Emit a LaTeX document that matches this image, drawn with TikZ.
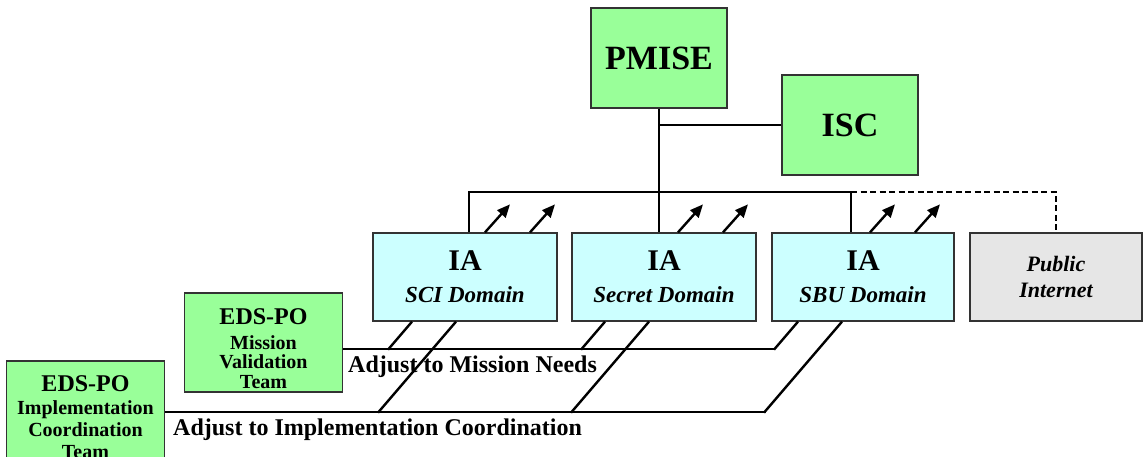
\documentclass[tikz,border=0pt]{standalone}
\usepackage{fontspec}
\setmainfont{Liberation Serif}
\usetikzlibrary{arrows.meta}

\definecolor{boxgreen}{HTML}{99FF99}
\definecolor{boxcyan}{HTML}{CCFFFF}
\definecolor{boxgray}{HTML}{E6E6E6}

\tikzset{
  unitbox/.style={draw=black!80, line width=1.3pt, inner sep=0pt, align=center},
  greenbox/.style={unitbox, fill=boxgreen},
  bigbox/.style={greenbox, minimum width=136pt, minimum height=100pt,
    font=\fontsize{34}{36}\selectfont\bfseries},
  teambox/.style={greenbox, minimum width=158pt,
    font=\fontsize{20}{19.5}\selectfont\bfseries},
  iabox/.style={unitbox, fill=boxcyan, minimum width=184pt, minimum height=88pt,
    font=\fontsize{23}{32}\selectfont\bfseries},
  netbox/.style={unitbox, fill=boxgray, minimum width=172pt, minimum height=88pt,
    font=\fontsize{22}{26}\selectfont\bfseries\itshape},
  tag/.style={inner sep=0pt, font=\fontsize{24}{26}\selectfont\bfseries},
  link/.style={line width=1.2pt},
  push/.style={line width=2.4pt, -{Triangle[length=13pt,width=11pt]}},
  slant/.style={line width=2.4pt}
}

\begin{document}
\begin{tikzpicture}[x=1pt,y=-1pt]
\useasboundingbox (0,0) rectangle (1143,457);

\node[bigbox] (pmise) at (659,58) {PMISE};
\node[bigbox] (isc) at (850,125) {ISC};

\node[iabox] (sci) at (465,277) {{\fontsize{30}{32}\selectfont IA}\\{\itshape SCI Domain}};
\node[iabox] (secret) at (664,277) {{\fontsize{30}{32}\selectfont IA}\\{\itshape Secret Domain}};
\node[iabox, minimum width=182pt] (sbu) at (863,277) {{\fontsize{30}{32}\selectfont IA}\\{\itshape SBU Domain}};
\node[netbox] (public) at (1056,277) {Public\\Internet};

\node[teambox, minimum height=99pt] (mission) at (263.5,342.5)
  {\rule{0pt}{28pt}{\fontsize{24}{26}\selectfont EDS-PO}\\[5pt]Mission\\Validation\\Team};
\node[teambox, minimum height=112pt, font=\fontsize{20}{22}\selectfont\bfseries] (impl) at (85.5,417)
  {{\fontsize{24}{26}\selectfont EDS-PO}\\[1pt]Implementation\\Coordination\\Team};

\coordinate (bus) at (0,192);
\coordinate (needend) at (775,349);
\coordinate (coordend) at (766,412);

% reporting lines
\draw[link] (pmise.south) -- (pmise.south |- secret.north);
\draw[link] (isc.west) -- (isc.west -| pmise.south);
\draw[link] ([xshift=4pt]sci.north) |- ([xshift=-12pt]sbu.north |- bus) -- ([xshift=-12pt]sbu.north);
\draw[link, dash pattern=on 6pt off 3.5pt, line width=2pt] ([xshift=-12pt]sbu.north |- bus) -| (public.north);

% outgoing arrows
\foreach \b/\d in {sci/20, secret/14, sbu/7}{
  \draw[push] ([xshift=\d pt]\b.north) -- ++(25,-28);
  \draw[push] ([xshift=\d pt+45pt]\b.north) -- ++(25,-28);
}

% adjustment lines
\foreach \b/\d in {sci/-53, secret/-59, sbu/-65}{
  \draw[slant] ([xshift=\d pt]\b.south) -- ++(-24,28);
  \draw[slant] ([xshift=\d pt+44pt]\b.south) -- ++(-78,91);
}
\draw[link] (mission.east |- needend) -- (needend);
\draw[link] (impl.east |- coordend) -- (coordend);

\node[tag, anchor=base west] (needs) at (348,372) {Adjust to Mission Needs};
\node[tag, anchor=base west] (coord) at (173,435) {Adjust to Implementation Coordination};
\end{tikzpicture}
\end{document}
